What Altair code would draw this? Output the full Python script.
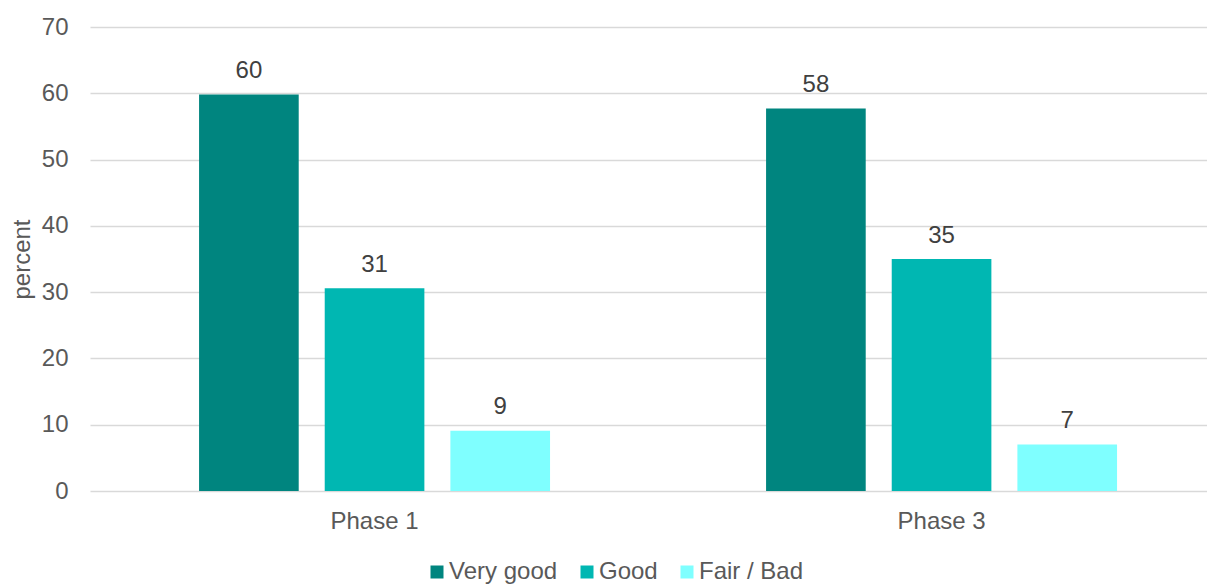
import altair as alt
import pandas as pd

phases = ["Phase 1", "Phase 3"]
ratings = ["Very good", "Good", "Fair / Bad"]
phase1_values = [59.8, 30.6, 9.1]
phase3_values = [57.7, 35.0, 7.0]
colors = ["#00857F", "#00B7B2", "#7FFFFF"]
y_ticks = [0, 10, 20, 30, 40, 50, 60, 70]

rows = []
for phase, vals in zip(phases, [phase1_values, phase3_values]):
    for r, v in zip(ratings, vals):
        rows.append({"phase": phase, "rating": r, "value": v})
df = pd.DataFrame(rows)

FONT = "Liberation Sans"

x_enc = alt.X("phase:N", sort=phases, title=None,
              scale=alt.Scale(paddingInner=0.381, paddingOuter=0.1755, align=0.548, round=False),
              axis=alt.Axis(labelAngle=0, ticks=False, tickSize=0, domain=False, grid=False,
                            labelPadding=18, labelFontSize=24, labelColor="#595959", labelFont=FONT))
xoff_enc = alt.XOffset("rating:N", sort=ratings,
                       scale=alt.Scale(domain=ratings, paddingInner=0.207, paddingOuter=0, round=False))
y_enc = alt.Y("value:Q", title="percent",
              scale=alt.Scale(domain=[0, 70], nice=False, zero=True),
              axis=alt.Axis(values=y_ticks, ticks=False, tickSize=0, domain=False, grid=True,
                            gridColor="#D9D9D9", gridWidth=1.5,
                            labelPadding=22, labelFontSize=24, labelColor="#595959", labelFont=FONT,
                            titleFontSize=24, titleColor="#595959", titleFont=FONT, titleFontWeight="normal",
                            titleAngle=270, titleBaseline="alphabetic", titleAlign="center",
                            titleX=-61, titleY=232))

bars = alt.Chart(df).mark_bar().encode(
    x=x_enc,
    xOffset=xoff_enc,
    y=y_enc,
    color=alt.Color("rating:N", sort=ratings,
                    scale=alt.Scale(domain=ratings, range=colors),
                    legend=alt.Legend(title=None, orient="none", direction="horizontal",
                                      legendX=335, legendY=533, padding=0,
                                      symbolType="square", symbolSize=169, symbolStrokeWidth=0,
                                      symbolOpacity=1,
                                      labelFontSize=24, labelColor="#595959", labelFont=FONT,
                                      labelOffset=0, columnPadding=17)),
)

labels = alt.Chart(df).mark_text(dy=-16.5, baseline="alphabetic", fontSize=24,
                                 color="#404040", font=FONT).encode(
    x=alt.X("phase:N", sort=phases),
    xOffset=alt.XOffset("rating:N", sort=ratings),
    y=alt.Y("value:Q"),
    text=alt.Text("value:Q", format=".0f"),
)

chart = alt.layer(bars, labels).properties(
    width=1117, height=464,
    autosize=alt.AutoSizeParams(type="none"),
    padding={"left": 82, "top": 19, "right": 0, "bottom": 93},
).configure_view(stroke=None)

chart.save("out.html", embed_options={"renderer": "svg", "actions": False})
